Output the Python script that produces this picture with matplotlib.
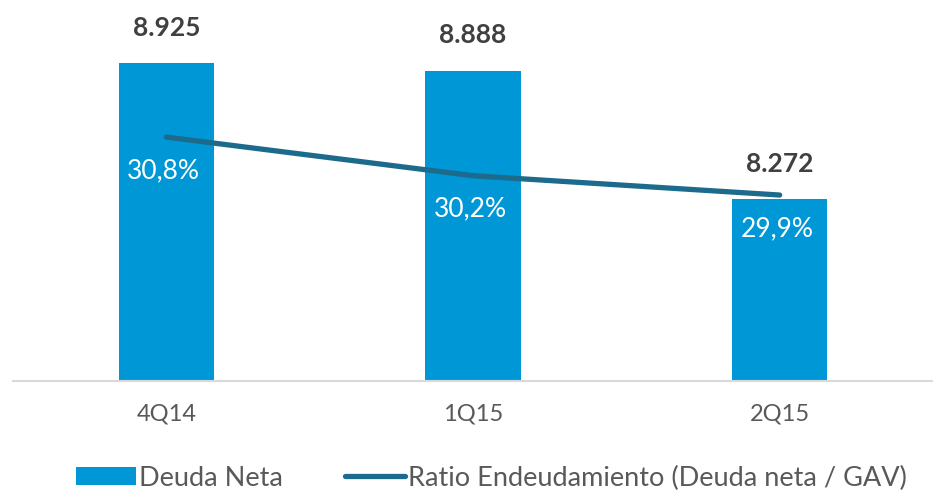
import matplotlib
matplotlib.use("Agg")
import matplotlib.pyplot as plt
from matplotlib.lines import Line2D
from matplotlib.patches import Patch

categories = ["4Q14", "1Q15", "2Q15"]
deuda_neta = [8925, 8888, 8272]
deuda_labels = ["8.925", "8.888", "8.272"]
ratio = [30.8, 30.2, 29.9]
ratio_labels = ["30,8%", "30,2%", "29,9%"]

BAR_C = "#0097D7"
LINE_C = "#1C6B8C"
TXT_C = "#595959"
FONT = "Lato"

fig = plt.figure(figsize=(9.33, 4.91), dpi=100)
ax = fig.add_axes([13/933, (491-381)/491, 920/933, (381-20)/491])
x = list(range(len(categories)))
ax.bar(x, deuda_neta, width=0.31, color=BAR_C, zorder=2)
ax.set_xlim(-0.5, 2.5)
ax.set_ylim(7400, 9133)
for s in ["top", "left", "right"]:
    ax.spines[s].set_visible(False)
ax.spines["bottom"].set_color("#D9D9D9")
ax.spines["bottom"].set_linewidth(1.5)
ax.set_yticks([])
ax.set_xticks(x)
ax.set_xticklabels(categories, fontsize=17, color=TXT_C, fontfamily=FONT)
ax.tick_params(axis="x", length=0, pad=16)

for xi, v, lab in zip(x, deuda_neta, deuda_labels):
    ax.annotate(lab, (xi, v), xytext=(0, 17), textcoords="offset points",
                ha="center", va="bottom", fontsize=19, fontweight="bold",
                color="#404040", fontfamily=FONT)

ax2 = ax.twinx()
ax2.set_ylim(27.01, 32.62)
ax2.axis("off")
ax2.plot(x, ratio, color=LINE_C, linewidth=3.8, solid_capstyle="round",
         solid_joinstyle="round", zorder=3)
for xi, v, lab in zip(x, ratio, ratio_labels):
    ax2.annotate(lab, (xi, v), xytext=(-2, -24), textcoords="offset points",
                 ha="center", va="center", fontsize=19, color="white",
                 fontfamily=FONT)

handles = [Patch(facecolor=BAR_C, edgecolor="none"),
           Line2D([0], [0], color=LINE_C, linewidth=3.8, solid_capstyle="round")]
fig.legend(handles, ["Deuda Neta", "Ratio Endeudamiento (Deuda neta / GAV)"],
           loc="center", bbox_to_anchor=(0.527, 1 - 478/491), ncol=2,
           frameon=False, handlelength=2.2, handleheight=0.67,
           handletextpad=0.12, columnspacing=2.3,
           prop={"family": FONT, "size": 19.5}, labelcolor=TXT_C)

fig.savefig("out.png", dpi=100)
